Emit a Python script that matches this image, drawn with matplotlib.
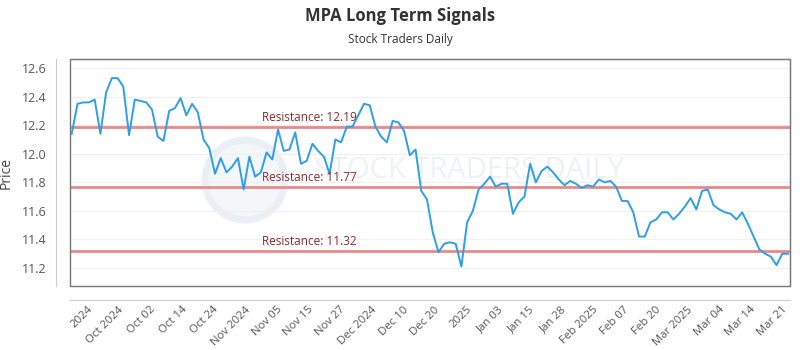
import numpy as np
import matplotlib
matplotlib.use("Agg")
import matplotlib.pyplot as plt
from matplotlib.patches import Rectangle, Ellipse

# Price series (one value per trading day)
prices = [
    12.14, 12.35, 12.36, 12.36, 12.38, 12.14, 12.43, 12.53, 12.53, 12.47,
    12.13, 12.38, 12.37, 12.36, 12.31, 12.12, 12.09, 12.30, 12.32, 12.39,
    12.27, 12.35, 12.29, 12.10, 12.04, 11.86, 11.97, 11.87, 11.91, 11.97,
    11.75, 11.98, 11.84, 11.87, 12.01, 11.96, 12.17, 12.02, 12.03, 12.15,
    11.93, 11.95,
    12.07, 12.02, 11.98, 11.86, 12.10, 12.08, 12.19, 12.19, 12.27, 12.35,
    12.34, 12.19, 12.12, 12.08, 12.23, 12.22, 12.16, 11.99, 12.03, 11.74,
    11.68, 11.45, 11.31, 11.37, 11.38, 11.37, 11.21, 11.52, 11.60, 11.75,
    11.79, 11.84, 11.77, 11.79, 11.79, 11.58, 11.66, 11.70, 11.93, 11.80,
    11.88, 11.91, 11.87, 11.82, 11.78, 11.81, 11.79, 11.76, 11.78, 11.77,
    11.82, 11.80, 11.81, 11.77, 11.67, 11.67, 11.59, 11.42, 11.42, 11.52,
    11.54, 11.59, 11.59, 11.54, 11.58, 11.63, 11.69, 11.61, 11.74, 11.75,
    11.64, 11.61, 11.59, 11.58, 11.54, 11.59, 11.51, 11.42, 11.33, 11.30,
    11.28, 11.22, 11.30, 11.30,
]

tick_labels = [
    "2024", "Oct 2024", "Oct 02", "Oct 14", "Oct 24", "Nov 2024", "Nov 05",
    "Nov 15", "Nov 27", "Dec 2024", "Dec 10", "Dec 20", "2025", "Jan 03",
    "Jan 15", "Jan 28", "Feb 2025", "Feb 07", "Feb 20", "Mar 2025", "Mar 04",
    "Mar 14", "Mar 21",
]

resistance = [12.19, 11.77, 11.32]

plt.rcParams["font.family"] = ["Open Sans", "DejaVu Sans"]

fig = plt.figure(figsize=(8, 3.5), dpi=100)
ax = fig.add_axes([0.0879, 0.1829, 0.8996, 0.6477])
ax.patch.set_alpha(0)

# outer axis lines set apart from the plot box (do this before tick setup,
# moving a spine resets the ticks)
for side in ("left", "bottom"):
    ax.spines[side].set_position(("outward", 10))
    ax.spines[side].set_color("#cccccc")
for side in ("top", "right"):
    ax.spines[side].set_color("#777777")
ax.add_patch(Rectangle((0, 0), 1, 1, transform=ax.transAxes, fill=False,
                       edgecolor="#777777", lw=1, zorder=5, clip_on=False))

x = np.arange(len(prices))
ax.plot(x, prices, color="#2f9ee8", lw=1.4, zorder=3)

for lvl in resistance:
    ax.axhline(lvl, color="#e88a8a", lw=2, zorder=2)
    ax.annotate(f"Resistance: {lvl:.2f}", xy=(33.2, lvl), xytext=(0, 2),
                textcoords="offset points", ha="left", va="bottom",
                fontsize=8.5, color="#8b2a2a", zorder=4)

ax.set_xlim(-0.25, len(prices) - 0.65)
ax.set_ylim(11.074, 12.662)
ax.set_yticks([11.2, 11.4, 11.6, 11.8, 12.0, 12.2, 12.4, 12.6])
ax.set_yticklabels([f"{v:.1f}" for v in ax.get_yticks()])
ax.grid(axis="y", color="#f0f0f0", lw=0.8, zorder=0)

tick_pos = np.linspace(3.3, 124.6, len(tick_labels))
ax.set_xticks(tick_pos)
ax.set_xticklabels(tick_labels, rotation=45, ha="right", va="center",
                   rotation_mode="anchor")
ax.tick_params(axis="x", length=0, pad=6, labelsize=8.2, labelcolor="#555555")
ax.tick_params(axis="y", length=0, pad=7, labelsize=9, labelcolor="#555555")

ax.set_ylabel("Price", fontsize=10, color="#444444", labelpad=6)

# faint watermark behind the plot
fig.add_artist(Ellipse((245 / 800, 1 - 180 / 350), 80 / 800, 80 / 350,
                       transform=fig.transFigure, facecolor="#f4f7fa",
                       edgecolor="#e9eff5", lw=5, zorder=-1))
ax.text(0.555, 0.51, "STOCK TRADERS DAILY", transform=ax.transAxes,
        fontsize=21, color="#eef1f4", ha="center", va="center", zorder=1)

fig.text(0.5, 1 - 16 / 350, "MPA Long Term Signals", ha="center",
         va="center", fontsize=12, fontweight="bold", color="#333333")
fig.text(0.5, 1 - 40 / 350, "Stock Traders Daily", ha="center",
         va="center", fontsize=8.5, color="#333333")

fig.savefig("out.png", dpi=100)
